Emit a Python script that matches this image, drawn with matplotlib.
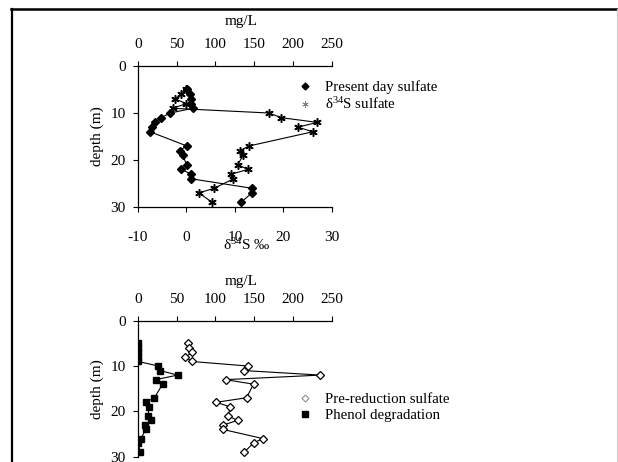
import matplotlib
matplotlib.use("Agg")
import matplotlib.pyplot as plt
from matplotlib.lines import Line2D

plt.rcParams['font.family'] = ['Liberation Serif', 'DejaVu Serif']
plt.rcParams['mathtext.fontset'] = 'custom'
plt.rcParams['mathtext.rm'] = 'Liberation Serif'
plt.rcParams['mathtext.it'] = 'Liberation Serif:italic'
plt.rcParams['axes.unicode_minus'] = False

# depth of each sample (m)
depth = [5, 6, 7, 8, 9, 10, 11, 12, 13, 14, 17, 18, 19, 21, 22, 23, 24, 26, 27, 29]
# top panel
present_sulfate = [64, 67.5, 68.5, 69, 71, 42, 30, 22.5, 18, 16, 63, 54, 58, 63, 56, 69, 69, 146.5, 147, 133]
d34s_sulfate = [0.0, -1.0, -2.3, 0.0, -2.8, 17.0, 19.6, 27.0, 23.0, 26.0, 13.0, 11.0, 11.7, 10.6, 12.7, 9.3, 9.7, 5.8, 2.6, 5.3]
# bottom panel
pre_reduction = [65, 65.5, 70, 61.5, 70, 142, 137, 235, 113, 149, 140, 101, 119, 116.5, 128.5, 110, 110, 161, 149, 137]
phenol_deg = [1, 1, 1, 1, 1, 26.5, 28.5, 51.5, 23, 32, 21.5, 10.5, 15, 13, 17, 10, 10.5, 4, 1, 3]

mg_ticks = [0, 50, 100, 150, 200, 250]
d34_ticks = [-10, 0, 10, 20, 30]
depth_ticks = [0, 10, 20, 30]

W, H = 618, 462
fig = plt.figure(figsize=(W / 100, H / 100), dpi=100)


def fx(px):
    return px / W


def fy(py):
    return 1 - py / H


def style_axis(ax):
    ax.spines['right'].set_visible(False)
    for s in ax.spines.values():
        s.set_linewidth(0.9)
    ax.tick_params(length=3.6, width=0.8, labelsize=11, color='black')


# ---------- top panel ----------
ax1 = fig.add_axes([fx(137.7), fy(207), fx(332) - fx(137.7), fy(66) - fy(207)])
ax1.plot(d34s_sulfate, depth, color='black', lw=0.8, marker=(6, 2, 0), ms=6, mew=1.1)
ax1.set_xlim(-10, 30)
ax1.set_ylim(30, 0)
ax1.set_xticks(d34_ticks)
ax1.set_yticks(depth_ticks)
style_axis(ax1)
ax1.spines['top'].set_visible(False)
ax1.tick_params(axis='x', pad=14)
ax1.tick_params(axis='y', pad=5)

ax1t = ax1.twiny()
ax1t.plot(present_sulfate, depth, color='black', lw=0.8, marker='D', ms=4.5)
ax1t.set_xlim(0, 250)
ax1t.set_xticks(mg_ticks)
style_axis(ax1t)
ax1t.spines['bottom'].set_visible(False)
ax1t.spines['left'].set_visible(False)
ax1t.tick_params(axis='x', pad=7)

fig.text(fx(241), fy(22), 'mg/L', ha='center', va='center', fontsize=11)
fig.text(fx(247), fy(245), 'δ$^{34}$S ‰', ha='center', va='center', fontsize=11)
fig.text(fx(97), fy(136.5), 'depth (m)', ha='center', va='center', rotation=90, fontsize=11)

h1 = [Line2D([], [], ls='none', marker='D', color='black', ms=3.5),
      Line2D([], [], ls='none', marker=(6, 2, 0), color='gray', ms=4.5, mew=0.6)]
fig.legend(h1, ['Present day sulfate', 'δ$^{34}$S sulfate'], loc='upper left',
           bbox_to_anchor=(fx(298), fy(80)), frameon=False, fontsize=10.7,
           handlelength=1.0, handletextpad=0.8, labelspacing=0.15, borderpad=0, borderaxespad=0)

# ---------- bottom panel ----------
ax2 = fig.add_axes([fx(137.7), fy(456.7), fx(332) - fx(137.7), fy(320.7) - fy(456.7)])
ax2.plot(pre_reduction, depth, color='black', lw=0.8, marker='D', ms=4.5, mfc='white', mew=0.9)
ax2.plot(phenol_deg, depth, color='black', lw=0.8, marker='s', ms=4.5)
ax2.set_xlim(0, 250)
ax2.set_ylim(30, 0)
ax2.set_xticks(mg_ticks)
ax2.set_yticks(depth_ticks)
ax2.xaxis.tick_top()
style_axis(ax2)
ax2.spines['bottom'].set_visible(False)
ax2.tick_params(axis='x', pad=7)
ax2.tick_params(axis='y', pad=5)

fig.text(fx(241), fy(282), 'mg/L', ha='center', va='center', fontsize=11)
fig.text(fx(97), fy(388.7), 'depth (m)', ha='center', va='center', rotation=90, fontsize=11)

h2 = [Line2D([], [], ls='none', marker='D', color='gray', mfc='white', ms=3.5, mew=0.7),
      Line2D([], [], ls='none', marker='s', color='black', ms=4.5)]
fig.legend(h2, ['Pre-reduction sulfate', 'Phenol degradation'], loc='upper left',
           bbox_to_anchor=(fx(298), fy(393)), frameon=False, fontsize=10.7,
           handlelength=1.0, handletextpad=0.8, labelspacing=0.15, borderpad=0, borderaxespad=0)

# outer frame
fig.add_artist(Line2D([fx(11), fx(617)], [fy(9), fy(9)], color='black', lw=1.8))
fig.add_artist(Line2D([fx(11.5), fx(11.5)], [fy(9), fy(462)], color='black', lw=1.6))
fig.add_artist(Line2D([fx(617), fx(617)], [fy(9), fy(462)], color='#d0d0d0', lw=0.8))

fig.savefig('out.png', dpi=100)
